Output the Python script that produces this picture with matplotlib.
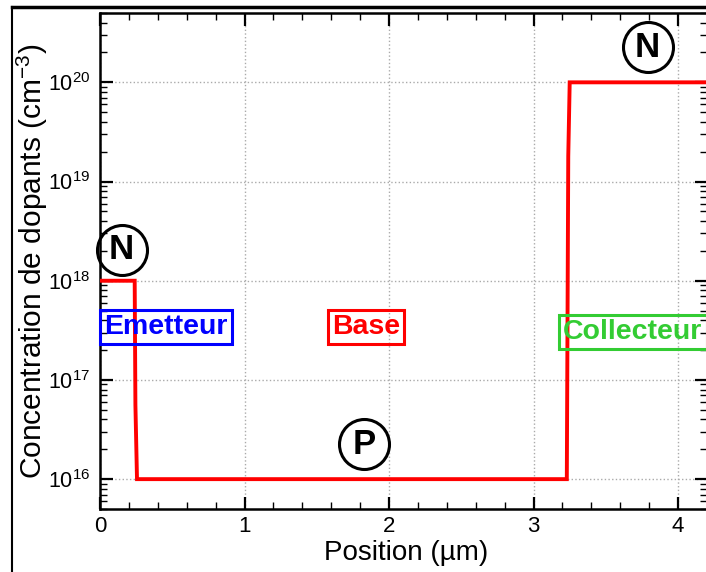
import matplotlib
matplotlib.use("Agg")
import matplotlib.pyplot as plt
from matplotlib.lines import Line2D
from matplotlib.ticker import LogLocator, MultipleLocator, NullFormatter

plt.rcParams['font.family'] = ['Liberation Sans', 'DejaVu Sans']
plt.rcParams['mathtext.fontset'] = 'custom'
plt.rcParams['mathtext.rm'] = 'Liberation Sans'
plt.rcParams['mathtext.it'] = 'Liberation Sans:italic'
plt.rcParams['mathtext.bf'] = 'Liberation Sans:bold'

# profil de dopage (position en um, concentration en cm^-3)
pos = [0.0, 0.24, 0.245, 0.256, 3.23, 3.24, 3.25, 4.2]
conc = [1e18, 1e18, 5.6e16, 1e16, 1e16, 1.8e19, 1e20, 1e20]

# etiquettes des zones
zones = ["Emetteur", "Base", "Collecteur"]
zone_x = [0.457, 1.84, 3.205]
zone_y = [3.4e17, 3.4e17, 3.05e17]
zone_col = ["#0000ff", "#ff0000", "#33cc33"]

# types de dopage
types = ["N", "P", "N"]
type_x = [0.15, 1.83, 3.79]
type_y = [2.05e18, 2.25e16, 2.25e20]

yticks = [1e16, 1e17, 1e18, 1e19, 1e20]
ylabels = [r"$10^{16}$", r"$10^{17}$", r"$10^{18}$", r"$10^{19}$", r"$10^{20}$"]

fig = plt.figure(figsize=(7.06, 5.72), dpi=100)
ax = fig.add_axes([100/706, 1-509/572, 607/706, 496/572])

ax.plot(pos, conc, color="#ff0000", lw=2.8, solid_joinstyle="miter", zorder=3)
ax.set_yscale("log")
ax.set_xlim(0, 4.2)
ax.set_ylim(5e15, 5e20)

ax.xaxis.set_major_locator(MultipleLocator(1))
ax.xaxis.set_minor_locator(MultipleLocator(0.2))
ax.yaxis.set_minor_locator(LogLocator(base=10, subs=range(2, 10), numticks=20))
ax.yaxis.set_minor_formatter(NullFormatter())
ax.set_yticks(yticks)
ax.set_yticklabels(ylabels)

ax.tick_params(which="both", direction="in", top=True, right=True)
ax.tick_params(axis="x", labelsize=16, pad=5)
ax.tick_params(axis="y", labelsize=15.5, pad=7)
ax.tick_params(which="major", length=9, width=1.6)
ax.tick_params(which="minor", length=5, width=1.0)
for s in ax.spines.values():
    s.set_linewidth(1.8)

ax.grid(True, which="major", linestyle=":", color="#aaaaaa", lw=1.0)

for t, x, y, c in zip(zones, zone_x, zone_y, zone_col):
    ha = "left" if t == "Collecteur" else "center"
    ax.text(x, y, t, color=c, fontsize=20.5, fontweight="bold", ha=ha, va="center",
            bbox=dict(boxstyle="square,pad=0.15", fc="none", ec=c, lw=2.2), clip_on=False)

for t, x, y in zip(types, type_x, type_y):
    ax.plot(x, y, "o", ms=36, mfc="none", mec="black", mew=2.2, clip_on=False, zorder=4)
    ax.text(x, y, t, fontsize=25, fontweight="bold", ha="center", va="center", zorder=5)

fig.text(42/706, 1-261/572, r"Concentration de dopants (cm$^{-3}$)", rotation=90,
         rotation_mode="anchor", ha="center", va="baseline", fontsize=21.5)
fig.text(406/706, 1-553/572, "Position (µm)", ha="center", va="center", fontsize=20)

# cadre noir (gauche et haut)
fig.add_artist(Line2D([12/706, 12/706], [0, 1-7/572], transform=fig.transFigure, color="black", lw=1.5))
fig.add_artist(Line2D([12/706, 1], [1-7/572, 1-7/572], transform=fig.transFigure, color="black", lw=2.5))

fig.savefig("out.png", dpi=100)
